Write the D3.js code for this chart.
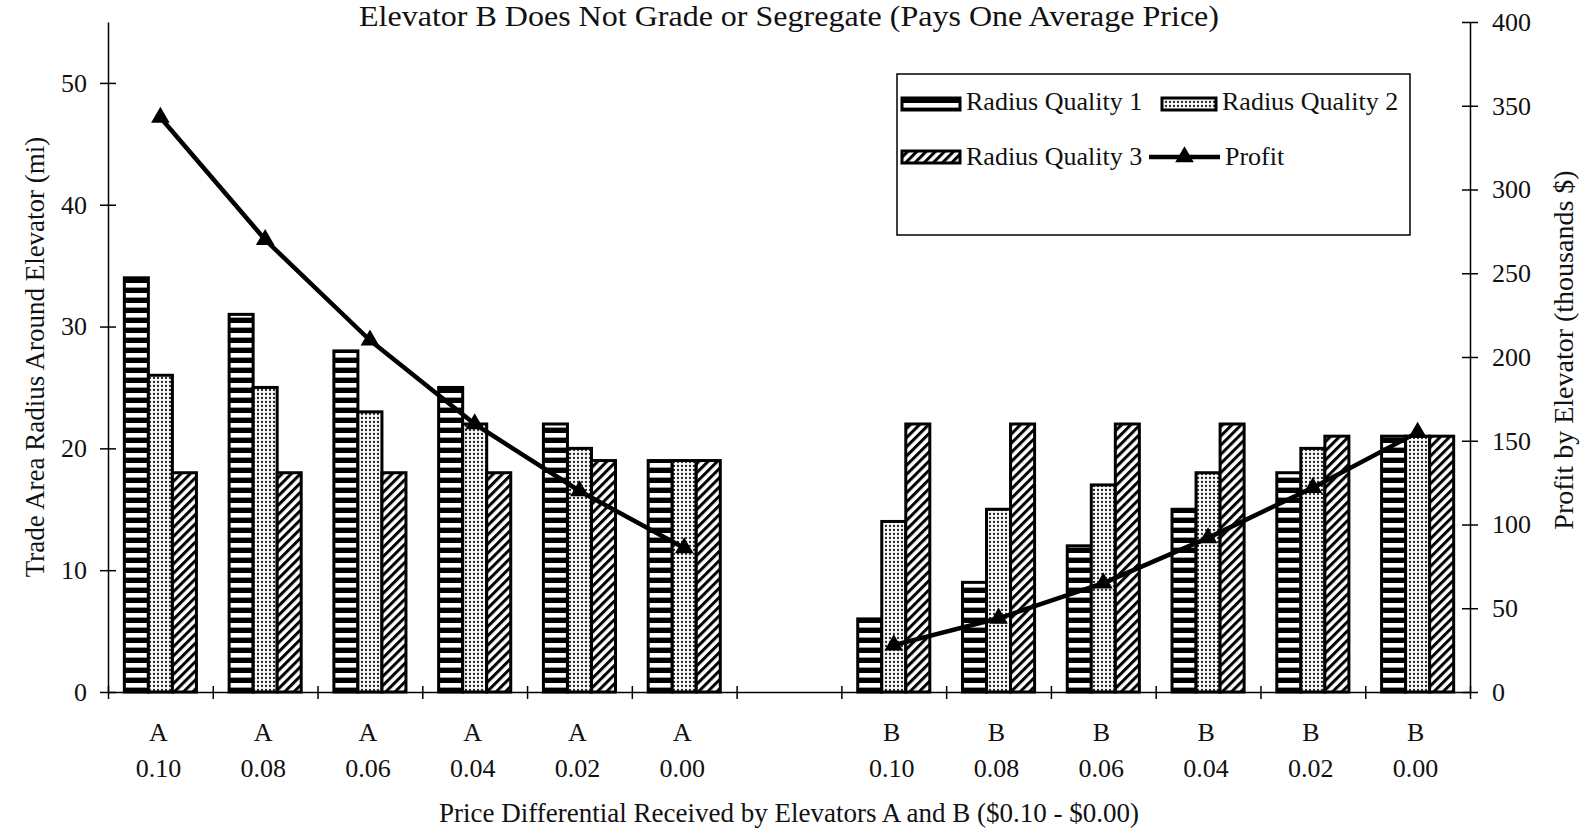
<!DOCTYPE html>
<html><head><meta charset="utf-8">
<script src="https://cdn.jsdelivr.net/npm/d3@7"></script>
<style>
body{margin:0;background:#fff}
svg{display:block}
text{font-family:"Liberation Serif","Times New Roman",serif;fill:#111}
</style>
</head><body>
<svg id="chart" width="1583" height="832"></svg>
<script>
// ---- data ----
const categories = ["A 0.10","A 0.08","A 0.06","A 0.04","A 0.02","A 0.00","gap","B 0.10","B 0.08","B 0.06","B 0.04","B 0.02","B 0.00"];
const elevatorLabels = ["A","A","A","A","A","A","","B","B","B","B","B","B"];
const priceLabels = ["0.10","0.08","0.06","0.04","0.02","0.00","","0.10","0.08","0.06","0.04","0.02","0.00"];
const radiusQ1 = [34,31,28,25,22,19,null,6,9,12,15,18,21];
const radiusQ2 = [26,25,23,22,20,19,null,14,15,17,18,20,21];
const radiusQ3 = [18,18,18,18,19,19,null,22,22,22,22,21,21];
const profit   = [343,270,210,160,120,86,null,28,44,65,92,122,155];
const seriesNames = ["Radius Quality 1","Radius Quality 2","Radius Quality 3","Profit"];
const leftTicks = [0,10,20,30,40,50];
const rightTicks = [0,50,100,150,200,250,300,350,400];
const titleText = "Elevator B Does Not Grade or Segregate (Pays One Average Price)";
const leftTitle = "Trade Area Radius Around Elevator (mi)";
const rightTitle = "Profit by Elevator (thousands  $)";
const xTitle = "Price Differential Received by Elevators A and B ($0.10 - $0.00)";

// ---- layout ----
const L = 108, R = 1470, T = 22, B = 692;
const svg = d3.select("#chart");
svg.append("rect").attr("width",1583).attr("height",832).attr("fill","#fff");

const defs = svg.append("defs");
// horizontal stripes
const p1 = defs.append("pattern").attr("id","pat1").attr("patternUnits","userSpaceOnUse")
  .attr("width",10).attr("height",10);
p1.append("rect").attr("width",10).attr("height",10).attr("fill","#000");
p1.append("rect").attr("y",3).attr("width",10).attr("height",4.6).attr("fill","#fff");
// dots
const p2 = defs.append("pattern").attr("id","pat2").attr("patternUnits","userSpaceOnUse")
  .attr("width",4).attr("height",4);
p2.append("rect").attr("width",4).attr("height",4).attr("fill","#fafafa");
p2.append("circle").attr("cx",2).attr("cy",2).attr("r",1.15).attr("fill","#222");
// diagonal hatch
const p3 = defs.append("pattern").attr("id","pat3").attr("patternUnits","userSpaceOnUse")
  .attr("width",6.5).attr("height",6.5).attr("patternTransform","rotate(45)");
p3.append("rect").attr("width",6.5).attr("height",6.5).attr("fill","#fff");
p3.append("rect").attr("width",3).attr("height",6.5).attr("fill","#000");
const fills = ["url(#pat1)","url(#pat2)","url(#pat3)"];

// ---- scales ----
const x = d3.scaleBand().domain(categories).range([L,R]).paddingInner(0).paddingOuter(0);
const xs = d3.scaleBand().domain([0,1,2]).range([0,x.bandwidth()]).paddingInner(0).paddingOuter(0.68);
const xEdge = d3.scaleLinear().domain([0,categories.length]).range([L,R]);
const yL = d3.scaleLinear().domain([0,55]).range([B,T]);
const yR = d3.scaleLinear().domain([0,400]).range([B,T]);

// ---- bars ----
const series = [radiusQ1,radiusQ2,radiusQ3];
series.forEach((vals,s)=>{
  svg.append("g").selectAll("rect")
    .data(vals.map((v,i)=>({v,c:categories[i]})).filter(d=>d.v!=null))
    .join("rect")
    .attr("x",d=>x(d.c)+xs(s))
    .attr("y",d=>yL(d.v))
    .attr("width",xs.bandwidth())
    .attr("height",d=>yL(0)-yL(d.v))
    .attr("fill",fills[s])
    .attr("stroke","#000").attr("stroke-width",3);
});

// ---- axes ----
const axL = svg.append("g").attr("transform",`translate(${L},0)`)
  .call(d3.axisLeft(yL).tickValues(leftTicks).tickSize(8).tickSizeOuter(0).tickPadding(13));
axL.selectAll(".tick line").attr("x1",8);
const axR = svg.append("g").attr("transform",`translate(${R},0)`)
  .call(d3.axisRight(yR).tickValues(rightTicks).tickSize(8).tickSizeOuter(0).tickPadding(14));
axR.selectAll(".tick line").attr("x1",-8);
const axB = svg.append("g").attr("transform",`translate(0,${B})`)
  .call(d3.axisBottom(xEdge).tickValues(d3.range(0,categories.length+1)).tickFormat("").tickSize(7).tickSizeOuter(0));
axB.selectAll(".tick line").attr("y1",-6);
[axL,axR,axB].forEach(a=>{
  a.selectAll("path.domain").attr("stroke","#000").attr("stroke-width",1.5);
  a.selectAll(".tick line").attr("stroke","#000").attr("stroke-width",1.5);
  a.selectAll("text").attr("font-size",26).attr("fill","#111")
   .style("font-family","'Liberation Serif','Times New Roman',serif");
});

// category labels
const lab = svg.append("g").selectAll("g").data(categories).join("g")
  .attr("transform",d=>`translate(${x(d)+x.bandwidth()/2-2},0)`);
lab.append("text").attr("y",741).attr("text-anchor","middle").attr("font-size",26)
  .text((d,i)=>elevatorLabels[i]);
lab.append("text").attr("y",777).attr("text-anchor","middle").attr("font-size",26)
  .text((d,i)=>priceLabels[i]);

// ---- profit line ----
const pts = profit.map((v,i)=>({v,c:categories[i]}));
const line = d3.line().defined(d=>d.v!=null)
  .x(d=>x(d.c)+x.bandwidth()/2).y(d=>yR(d.v));
svg.append("path").attr("d",line(pts)).attr("fill","none")
  .attr("stroke","#000").attr("stroke-width",4.5).attr("stroke-linejoin","round");
const tri = d3.symbol(d3.symbolTriangle,150);
svg.append("g").selectAll("path").data(pts.filter(d=>d.v!=null)).join("path")
  .attr("d",tri)
  .attr("transform",d=>`translate(${x(d.c)+x.bandwidth()/2},${yR(d.v)})`)
  .attr("fill","#000");

// ---- titles ----
svg.append("text").attr("x",(L+R)/2).attr("y",26).attr("text-anchor","middle")
  .attr("font-size",29).attr("textLength",860).attr("lengthAdjust","spacingAndGlyphs")
  .text(titleText);
svg.append("text").attr("transform",`translate(44,${(T+B)/2}) rotate(-90)`)
  .attr("text-anchor","middle").attr("font-size",27).text(leftTitle);
svg.append("text").attr("transform",`translate(1573,350) rotate(-90)`)
  .attr("text-anchor","middle").attr("font-size",28).text(rightTitle);
svg.append("text").attr("x",(L+R)/2).attr("y",822).attr("text-anchor","middle")
  .attr("font-size",27).text(xTitle);

// ---- legend ----
const lg = svg.append("g");
lg.append("rect").attr("x",897).attr("y",74).attr("width",513).attr("height",161)
  .attr("fill","#fff").attr("stroke","#000").attr("stroke-width",1.5);
const legendItems = [
  {name:seriesNames[0],sx:902,sy:98,sw:58,tx:966,ty:110,fill:fills[0]},
  {name:seriesNames[1],sx:1162,sy:98,sw:54,tx:1222,ty:110,fill:fills[1]},
  {name:seriesNames[2],sx:902,sy:151,sw:58,tx:966,ty:165,fill:fills[2]},
  {name:seriesNames[3],sx:1149,sy:157,sw:71,tx:1225,ty:165,fill:null}
];
legendItems.forEach(it=>{
  if(it.fill){
    lg.append("rect").attr("x",it.sx).attr("y",it.sy).attr("width",it.sw).attr("height",12)
      .attr("fill",it.fill).attr("stroke","#000").attr("stroke-width",3);
  } else {
    lg.append("line").attr("x1",it.sx).attr("x2",it.sx+it.sw).attr("y1",it.sy).attr("y2",it.sy)
      .attr("stroke","#000").attr("stroke-width",4.5);
    lg.append("path").attr("d",tri).attr("transform",`translate(${it.sx+it.sw/2},${it.sy})`).attr("fill","#000");
  }
  lg.append("text").attr("x",it.tx).attr("y",it.ty).attr("font-size",26).text(it.name);
});
</script>
</body></html>
